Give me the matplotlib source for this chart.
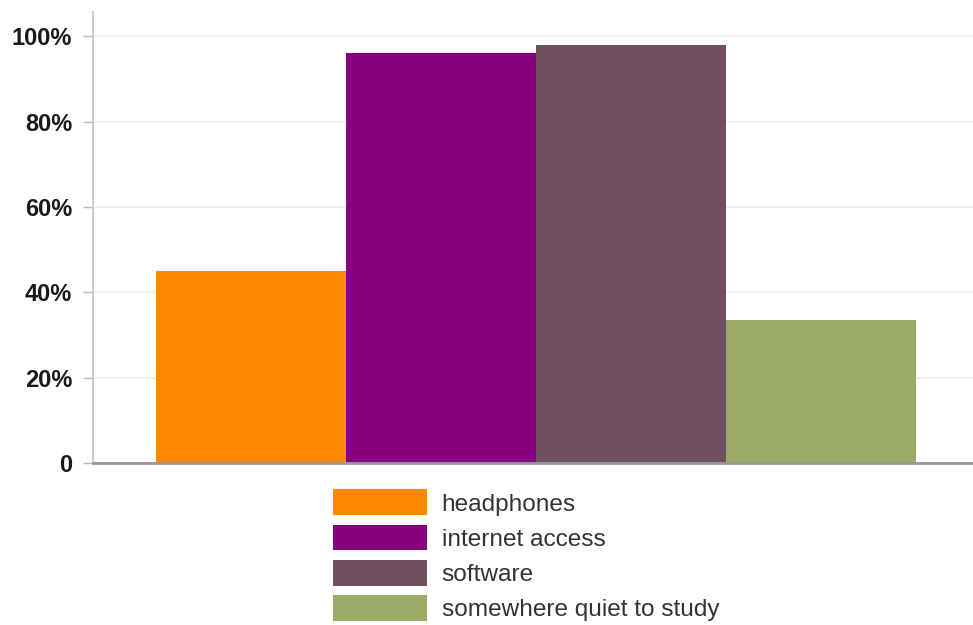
import matplotlib
matplotlib.use("Agg")
import matplotlib.pyplot as plt
from matplotlib.patches import Patch

# survey results: share of students who need each item
items = ["headphones", "internet access", "software", "somewhere quiet to study"]
shares = [45, 96, 98, 33.5]
colors = ["#ff8800", "#87007f", "#6f4f60", "#9aab64"]
yticks = [0, 20, 40, 60, 80, 100]
ytick_labels = ["0", "20%", "40%", "60%", "80%", "100%"]

plt.rcParams["font.family"] = ["Liberation Sans", "DejaVu Sans"]

fig = plt.figure(figsize=(9.73, 6.25), dpi=100)
ax = fig.add_axes([0.0956, 0.2592, 0.9044, 0.7216])

xs = range(len(items))
ax.bar(xs, shares, width=1.0, color=colors, edgecolor="none", zorder=3)

ax.set_xlim(-0.83, 3.8)
ax.set_ylim(0, 105.7)
ax.set_yticks(yticks)
ax.set_yticklabels(ytick_labels, fontsize=17, fontweight="bold", color="#1a1a1a")
ax.set_xticks([])
ax.tick_params(axis="y", length=7, width=1, color="#bbbbbb", pad=8)
ax.grid(axis="y", color="#eeeeee", linewidth=1.2, zorder=0)

for side in ["top", "right"]:
    ax.spines[side].set_visible(False)
ax.spines["left"].set_color("#c4c4c4")
ax.spines["left"].set_linewidth(1.2)
ax.spines["bottom"].set_color("#999999")
ax.spines["bottom"].set_linewidth(2)
ax.spines["bottom"].set_zorder(4)

handles = [Patch(facecolor=c, edgecolor="none") for c in colors]
fig.legend(handles, items, loc="upper left", bbox_to_anchor=(0.342, 0.217),
           frameon=False, fontsize=17.6, handlelength=3.85, handleheight=1.25,
           handletextpad=0.6, labelspacing=0.37, borderpad=0, borderaxespad=0,
           labelcolor="#333333")

fig.savefig("out.png", dpi=100, facecolor="white")
